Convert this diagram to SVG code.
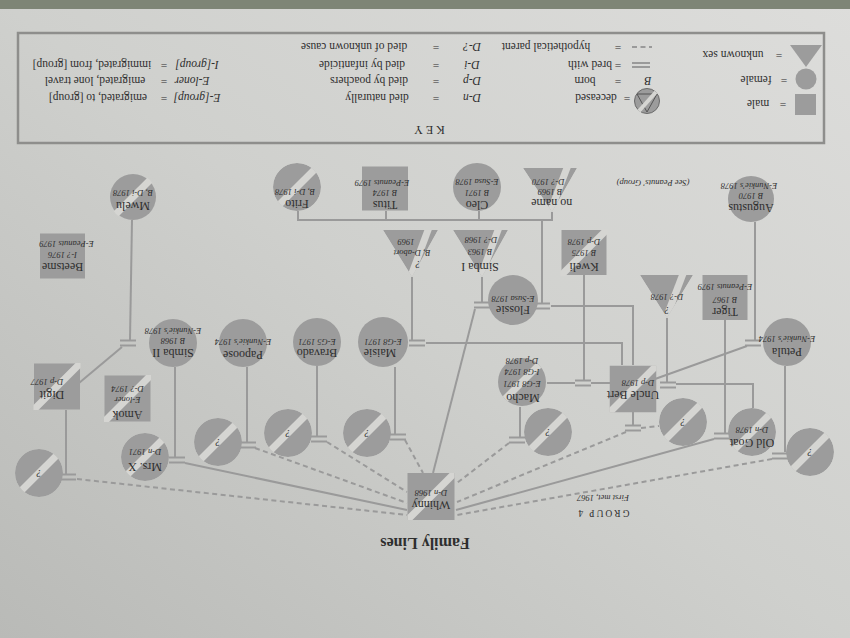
<svg xmlns="http://www.w3.org/2000/svg" xmlns:xlink="http://www.w3.org/1999/xlink" width="850" height="638" viewBox="0 0 850 638">
<style>
.f{fill:#9c9c9c}
.sp{stroke:#d5d5d2;stroke-width:7}
.c{stroke:#9a9a9a;stroke-width:2;fill:none}
.d{stroke:#9a9a9a;stroke-width:2;fill:none;stroke-dasharray:5 3.5}
text{font-family:"Liberation Serif","DejaVu Serif",serif;fill:#2e2e2e;text-anchor:middle}
.nm{font-size:12px}
.dt{font-size:8.5px;font-style:italic}
.q{font-size:10px;font-style:italic}
.k{font-size:11.5px}
.ki{font-size:11.5px;font-style:italic}
</style>
<defs>
<linearGradient id="pg" x1="0" y1="1" x2="1" y2="0">
<stop offset="0" stop-color="#b9bab7"/>
<stop offset="0.5" stop-color="#cfd0cd"/>
<stop offset="1" stop-color="#dddddb"/>
</linearGradient>
<clipPath id="cc"><circle r="24"/></clipPath>
<clipPath id="cs"><rect x="-23.5" y="-23.5" width="47" height="47"/></clipPath>
<clipPath id="ct1"><polygon points="-26,21 27,21 0,-22"/></clipPath>
<clipPath id="ct2"><polygon points="-27,22 27,22 -2,-22"/></clipPath>
<clipPath id="ct3"><polygon points="-27,23 28,23 -1,-24"/></clipPath>
<g id="eq"><line x1="-8" y1="-2.5" x2="8" y2="-2.5" stroke="#9a9a9a" stroke-width="2"/><line x1="-8" y1="2.5" x2="8" y2="2.5" stroke="#9a9a9a" stroke-width="2"/></g>
<g id="qc"><g clip-path="url(#cc)"><circle r="24" fill="#9c9c9c"/><line x1="-30" y1="30" x2="30" y2="-30" stroke="#d5d5d2" stroke-width="7"/></g><text y="3.5" font-family="Liberation Serif, serif" font-size="10" font-style="italic" fill="#2e2e2e" text-anchor="middle">?</text></g>
</defs>

<rect width="850" height="638" fill="url(#pg)"/>
<rect width="850" height="9" fill="#7e8576"/>

<g id="key">
<rect x="18" y="33" width="806" height="110" fill="none" stroke="#8e8e8c" stroke-width="2.5"/>
<text transform="translate(428,130) rotate(180)" y="4" font-size="12" letter-spacing="3">KEY</text>
<text class="k" transform="translate(354,47) rotate(180)" y="4">died of unknown cause</text>
<text class="k" transform="translate(436,47) rotate(180)" y="4">=</text>
<text class="ki" transform="translate(472,47) rotate(180)" y="4">D-?</text>
<text class="k" transform="translate(362,65) rotate(180)" y="4">died by infanticide</text>
<text class="k" transform="translate(436,65) rotate(180)" y="4">=</text>
<text class="ki" transform="translate(472,65) rotate(180)" y="4">D-i</text>
<text class="k" transform="translate(369,81) rotate(180)" y="4">died by poachers</text>
<text class="k" transform="translate(436,81) rotate(180)" y="4">=</text>
<text class="ki" transform="translate(472,81) rotate(180)" y="4">D-p</text>
<text class="k" transform="translate(377,98) rotate(180)" y="4">died naturally</text>
<text class="k" transform="translate(436,98) rotate(180)" y="4">=</text>
<text class="ki" transform="translate(472,98) rotate(180)" y="4">D-n</text>
<text class="k" transform="translate(546,47) rotate(180)" y="4">hypothetical parent</text>
<text class="k" transform="translate(618,47) rotate(180)" y="4">=</text>
<line x1="632" y1="47" x2="652" y2="47" class="d" stroke-width="1.5" stroke-dasharray="3 2"/>
<text class="k" transform="translate(590,65) rotate(180)" y="4">bred with</text>
<text class="k" transform="translate(618,65) rotate(180)" y="4">=</text>
<line x1="632" y1="63" x2="650" y2="63" class="c" stroke-width="1.5"/>
<line x1="632" y1="67" x2="650" y2="67" class="c" stroke-width="1.5"/>
<text class="k" transform="translate(585,81) rotate(180)" y="4">born</text>
<text class="k" transform="translate(618,81) rotate(180)" y="4">=</text>
<text class="ki" transform="translate(648,81) rotate(180)" y="4">B</text>
<text class="k" transform="translate(596,98) rotate(180)" y="4">deceased</text>
<text class="k" transform="translate(627,98) rotate(180)" y="4">=</text>
<g>
<circle cx="647" cy="101" r="12.5" class="f" stroke="#6a6a6a" stroke-width="1"/>
<polygon points="637,94 657,94 647,112" fill="none" stroke="#555" stroke-width="1"/>
<line x1="656" y1="92" x2="639" y2="111" stroke="#d5d5d2" stroke-width="4"/>
</g>
<text class="k" transform="translate(733,55) rotate(180)" y="4">unknown sex</text>
<text class="k" transform="translate(779,55) rotate(180)" y="4">=</text>
<polygon points="790,45 822,45 806,67" class="f"/>
<text class="k" transform="translate(756,80) rotate(180)" y="4">female</text>
<text class="k" transform="translate(784,80) rotate(180)" y="4">=</text>
<circle cx="806" cy="79" r="10.5" class="f"/>
<text class="k" transform="translate(758,104) rotate(180)" y="4">male</text>
<text class="k" transform="translate(783,104) rotate(180)" y="4">=</text>
<rect x="795" y="94" width="21" height="21" class="f"/>
<text class="k" transform="translate(92,65) rotate(180)" y="4">immigrated, from [group]</text>
<text class="k" transform="translate(164,65) rotate(180)" y="4">=</text>
<text class="ki" transform="translate(197,65) rotate(180)" y="4">I-[group]</text>
<text class="k" transform="translate(95,81) rotate(180)" y="4">emigrated, lone travel</text>
<text class="k" transform="translate(164,81) rotate(180)" y="4">=</text>
<text class="ki" transform="translate(192,81) rotate(180)" y="4">E-loner</text>
<text class="k" transform="translate(98,98) rotate(180)" y="4">emigrated, to [group]</text>
<text class="k" transform="translate(164,98) rotate(180)" y="4">=</text>
<text class="ki" transform="translate(197,98) rotate(180)" y="4">E-[group]</text>
</g>

<g id="titles">
<text transform="translate(425,543) rotate(180)" y="5.5" font-size="16" font-weight="bold">Family Lines</text>
<text class="dt" transform="translate(603,498) rotate(180)" y="3">First met, 1967</text>
<text transform="translate(603,513) rotate(180)" y="3.5" font-size="9.5" letter-spacing="2">GROUP 4</text>
<text class="dt" transform="translate(653,183) rotate(180)" y="3">(See Peanuts' Group)</text>
</g>

<g id="connectors">
<path class="c" d="M755,222 V340"/>
<path class="c" d="M747,346 L655,379"/>
<path class="c" d="M785,366 V452"/>
<path class="c" d="M725,320 V433"/>
<path class="c" d="M714,439 L456,510"/>
<path class="c" d="M667,318 V382"/>
<path class="c" d="M676,384 H753 V408"/>
<path class="c" d="M633,412 V425"/>
<path class="c" d="M584,275 V380"/>
<path class="c" d="M547,383 H575 M591,383 H610"/>
<path class="c" d="M520,407 V437"/>
<path class="c" d="M298,211 V220 H552 V212 M386,211 V220 M479,211 V220 M542,220 V303"/>
<path class="c" d="M482,277 V302"/>
<path class="c" d="M551,306 H633 V365"/>
<path class="c" d="M475,309 L433,473"/>
<path class="c" d="M412,277 V340"/>
<path class="c" d="M426,343 H622 V365"/>
<path class="c" d="M395,367 V434"/>
<path class="c" d="M317,366 V436"/>
<path class="c" d="M247,367 V442"/>
<path class="c" d="M175,367 V457"/>
<path class="c" d="M185,463 L407,510"/>
<path class="c" d="M132,220 L130,340"/>
<path class="c" d="M122,347 L79,383"/>
<path class="c" d="M66,410 V474"/>
<path class="d" d="M772,459 L457,515"/>
<path class="d" d="M641,428 L659,426"/>
<path class="d" d="M626,432 L457,502"/>
<path class="d" d="M509,443 L457,483"/>
<path class="d" d="M405,440 L423,473"/>
<path class="d" d="M327,442 L407,492"/>
<path class="d" d="M255,448 L407,503"/>
<path class="d" d="M77,479 L407,515"/>
<use href="#eq" x="753" y="343"/>
<use href="#eq" x="780" y="456"/>
<use href="#eq" x="722" y="436"/>
<use href="#eq" x="668" y="385"/>
<use href="#eq" x="633" y="428"/>
<use href="#eq" x="583" y="383"/>
<use href="#eq" x="517" y="440"/>
<use href="#eq" x="482" y="305"/>
<use href="#eq" x="542" y="306"/>
<use href="#eq" x="417" y="343"/>
<use href="#eq" x="398" y="437"/>
<use href="#eq" x="319" y="439"/>
<use href="#eq" x="248" y="445"/>
<use href="#eq" x="177" y="460"/>
<use href="#eq" x="128" y="343"/>
<use href="#eq" x="68" y="477"/>
</g>

<g id="n-augustus" transform="translate(751,199) rotate(180)">
<circle r="23" class="f"/>
<text class="nm" y="-5">Augustus</text>
<text class="dt" y="6">B 1970</text>
<text class="dt" x="2" y="16">E-Nunkie's 1978</text>
</g>
<g id="n-tiger" transform="translate(725,297.5) rotate(180)">
<rect x="-22.5" y="-22.5" width="45" height="45" class="f"/>
<text class="nm" y="-10">Tiger</text>
<text class="dt" y="1">B 1967</text>
<text class="dt" y="13.2">E-Peanuts 1979</text>
</g>
<g id="n-unknown-1978" transform="translate(667,296) rotate(180)">
<g clip-path="url(#ct1)"><polygon points="-26,21 27,21 0,-22" class="f"/><line x1="-19" y1="30" x2="4" y2="-30" class="sp" stroke-width="6"/></g>
<text class="q" y="-10.5">?</text>
<text class="dt" y="2">D-? 1978</text>
</g>
<g id="n-petula" transform="translate(787,342) rotate(180)">
<circle r="24" class="f"/>
<text class="nm" y="-5.8">Petula</text>
<text class="dt" y="6">E-Nunkie's 1974</text>
</g>
<g id="n-oldgoat" transform="translate(752,432) rotate(180)">
<g clip-path="url(#cc)"><circle r="24" class="f"/><line x1="-30" y1="30" x2="30" y2="-30" class="sp"/></g>
<text class="nm" y="-7">Old Goat</text>
<text class="dt" y="5">D-n 1978</text>
</g>
<g id="n-q1"><use href="#qc" transform="translate(810,452) rotate(180)"/></g>
<g id="n-q2"><use href="#qc" transform="translate(683,422) rotate(180)"/></g>
<g id="n-unclebert" transform="translate(633,389) rotate(180)">
<g clip-path="url(#cs)"><rect x="-23.5" y="-23.5" width="47" height="47" class="f"/><line x1="-30" y1="30" x2="30" y2="-30" class="sp" stroke-width="8"/></g>
<text class="nm" y="-2">Uncle Bert</text>
<text class="dt" x="-5" y="9">D-p 1978</text>
</g>
<g id="n-kweli" transform="translate(584,252.5) rotate(180)">
<g clip-path="url(#cs)"><rect x="-22.5" y="-22.5" width="45" height="45" class="f"/><line x1="-30" y1="30" x2="30" y2="-30" class="sp" stroke-width="8"/></g>
<text class="nm" y="-10">Kweli</text>
<text class="dt" y="2.2">B 1975</text>
<text class="dt" y="13.8">D-p 1978</text>
</g>
<g id="n-macho" transform="translate(522,382) rotate(180)">
<g clip-path="url(#cc)"><circle r="25" class="f"/><line x1="-30" y1="30" x2="30" y2="-30" class="sp"/></g>
<text class="nm" x="-1" y="-12.4">Macho</text>
<text class="dt" y="1.4">E-G8 1971</text>
<text class="dt" y="13">I-G8 1974</text>
<text class="dt" y="24.5">D-p 1978</text>
</g>
<g id="n-q3"><use href="#qc" transform="translate(548,432) rotate(180)"/></g>
<g id="n-flossie" transform="translate(513,300) rotate(180)">
<circle r="25" class="f"/>
<text class="nm" y="-5.8">Flossie</text>
<text class="dt" y="4.5">E-Susa 1978</text>
</g>
<g id="n-noname" transform="translate(550,190) rotate(180)">
<g clip-path="url(#ct2)"><polygon points="-27,22 27,22 -2,-22" class="f"/><line x1="-20" y1="30" x2="3" y2="-30" class="sp" stroke-width="6"/></g>
<text class="nm" x="-1.7" y="-9.1">no name</text>
<text class="dt" y="0.8">B 1969</text>
<text class="dt" x="1.7" y="11.3">D-? 1970</text>
</g>
<g id="n-cleo" transform="translate(477,187) rotate(180)">
<circle r="24" class="f"/>
<text class="nm" y="-13.5">Cleo</text>
<text class="dt" y="-2.5">B 1971</text>
<text class="dt" y="7.8">E-Susa 1978</text>
</g>
<g id="n-titus" transform="translate(385,188.5) rotate(180)">
<rect x="-23" y="-22" width="46" height="44" class="f"/>
<text class="nm" y="-12.5">Titus</text>
<text class="dt" y="-1.5">B 1974</text>
<text class="dt" x="3" y="8.8">E-Peanuts 1979</text>
</g>
<g id="n-frito" transform="translate(297,187) rotate(180)">
<g clip-path="url(#cc)"><circle r="24" class="f"/><line x1="-30" y1="30" x2="30" y2="-30" class="sp"/></g>
<text class="nm" y="-13">Frito</text>
<text class="dt" x="2" y="-2">B, D-i 1978</text>
</g>
<g id="n-abort" transform="translate(411,253) rotate(180)">
<g clip-path="url(#ct3)"><polygon points="-27,23 28,23 -1,-24" class="f"/><line x1="-20" y1="31" x2="3" y2="-31" class="sp" stroke-width="6"/></g>
<text class="q" x="-7" y="-7.5">?</text>
<text class="dt" x="-1" y="3">B, D-abort</text>
<text class="dt" x="5" y="14">1969</text>
</g>
<g id="n-simba1" transform="translate(481,253) rotate(180)">
<g clip-path="url(#ct3)"><polygon points="-27,23 28,23 -1,-24" class="f"/><line x1="-20" y1="31" x2="3" y2="-31" class="sp" stroke-width="6"/></g>
<text class="nm" x="1" y="-9.5">Simba I</text>
<text class="dt" x="1" y="4.3">B 1963</text>
<text class="dt" y="16">D-? 1968</text>
</g>
<g id="n-maisie" transform="translate(383,342) rotate(180)">
<circle r="25" class="f"/>
<text class="nm" x="3" y="-7.4">Maisie</text>
<text class="dt" y="3.5">E-G8 1971</text>
</g>
<g id="n-q4"><use href="#qc" transform="translate(367,433) rotate(180)"/></g>
<g id="n-bravado" transform="translate(317,342) rotate(180)">
<circle r="24" class="f"/>
<text class="nm" y="-7.4">Bravado</text>
<text class="dt" y="3.5">E-G5 1971</text>
</g>
<g id="n-q5"><use href="#qc" transform="translate(288,433) rotate(180)"/></g>
<g id="n-papoose" transform="translate(243,343) rotate(180)">
<circle r="24" class="f"/>
<text class="nm" y="-8">Papoose</text>
<text class="dt" y="4">E-Nunkie's 1974</text>
</g>
<g id="n-q6"><use href="#qc" transform="translate(218,442) rotate(180)"/></g>
<g id="n-simba2" transform="translate(173,343) rotate(180)">
<circle r="24" class="f"/>
<text class="nm" y="-5.8">Simba II</text>
<text class="dt" y="4.8">B 1968</text>
<text class="dt" y="14.8">E-Nunkie's 1978</text>
</g>
<g id="n-mrsx" transform="translate(145,457) rotate(180)">
<g clip-path="url(#cc)"><circle r="24" class="f"/><line x1="-30" y1="30" x2="30" y2="-30" class="sp"/></g>
<text class="nm" y="-6.4">Mrs. X</text>
<text class="dt" y="8">D-n 1971</text>
</g>
<g id="n-amok" transform="translate(127.5,398.5) rotate(180)">
<g clip-path="url(#cs)"><rect x="-23" y="-23" width="46" height="46" class="f"/><line x1="-30" y1="30" x2="30" y2="-30" class="sp" stroke-width="8"/></g>
<text class="nm" y="-12.5">Amok</text>
<text class="dt" y="1.3">E-loner</text>
<text class="dt" y="13">D-? 1974</text>
</g>
<g id="n-digit" transform="translate(57,386.5) rotate(180)">
<g clip-path="url(#cs)"><rect x="-23" y="-23" width="46" height="46" class="f"/><line x1="-30" y1="30" x2="30" y2="-30" class="sp" stroke-width="8"/></g>
<text class="nm" x="5" y="-4.3">Digit</text>
<text class="dt" x="10" y="8">D-p 1977</text>
</g>
<g id="n-q7"><use href="#qc" transform="translate(39,473) rotate(180)"/></g>
<g id="n-mwelu" transform="translate(133,197) rotate(180)">
<g clip-path="url(#cc)"><circle r="23" class="f"/><line x1="-30" y1="30" x2="30" y2="-30" class="sp"/></g>
<text class="nm" y="-4.5">Mwelu</text>
<text class="dt" y="6.6">B, D-i 1978</text>
</g>
<g id="n-beetsme" transform="translate(62.5,256) rotate(180)">
<rect x="-22.5" y="-22.5" width="45" height="45" class="f"/>
<text class="nm" y="-6.7">Beetsme</text>
<text class="dt" y="4">I-? 1976</text>
<text class="dt" x="-4" y="15.5">E-Peanuts 1979</text>
</g>
<g id="n-whinny" transform="translate(431,496.5) rotate(180)">
<g clip-path="url(#cs)"><rect x="-24" y="-23.5" width="48" height="47" class="f"/><line x1="-30" y1="30" x2="30" y2="-30" class="sp" stroke-width="8"/></g>
<text class="nm" y="-4.3">Whinny</text>
<text class="dt" y="6.5">D-n 1968</text>
</g>
</svg>
